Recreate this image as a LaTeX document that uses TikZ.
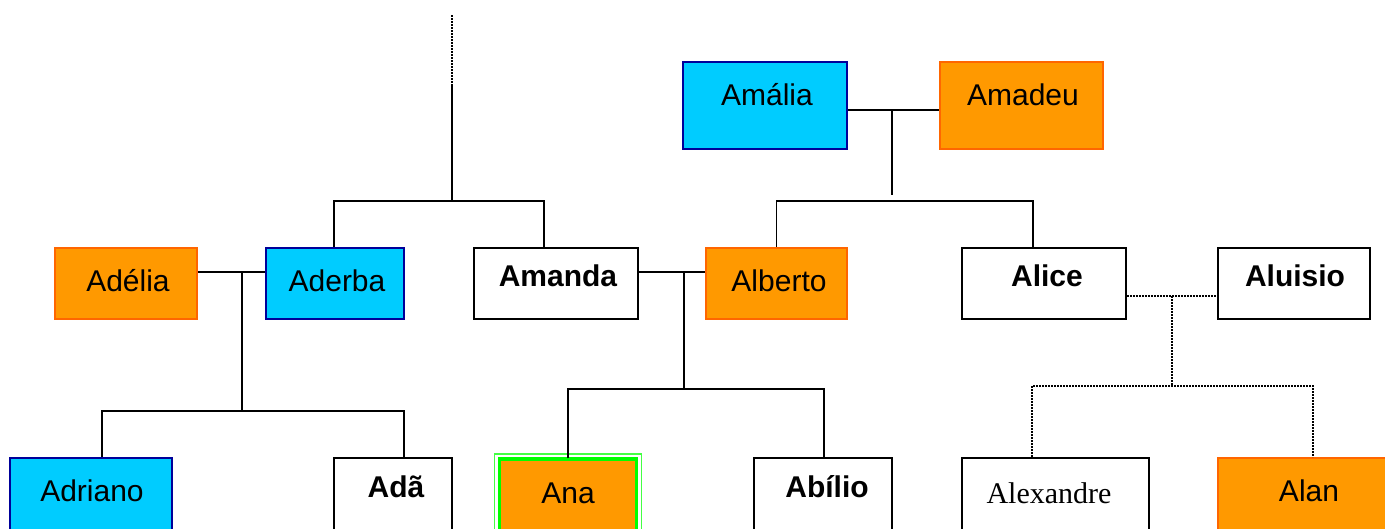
\documentclass[tikz,border=0pt]{standalone}
\usepackage{fontspec}
\setmainfont{Liberation Sans}
\newfontfamily\timesfont{Liberation Serif}
\definecolor{orfill}{HTML}{FF9900}
\definecolor{ordraw}{HTML}{FF6600}
\definecolor{blfill}{HTML}{00CCFF}
\definecolor{bldraw}{HTML}{000099}
\definecolor{grA}{HTML}{00FF00}
\definecolor{grB}{HTML}{44FF44}
\begin{document}
\begin{tikzpicture}[x=1pt,y=-1pt,
  person/.style={rectangle, inner sep=0pt, line width=1.8pt},
  orbox/.style={person, fill=orfill, draw=ordraw},
  blbox/.style={person, fill=blfill, draw=bldraw},
  whbox/.style={person, fill=white, draw=black},
  toprow/.style={minimum height=87pt},
  midrow/.style={minimum height=71pt},
  botrow/.style={minimum height=82pt},
  txt/.style={anchor=base, inner sep=0pt, font=\fontsize{30}{36}\selectfont},
  btxt/.style={txt, font=\fontsize{30}{36}\selectfont\bfseries},
  link/.style={line width=1.9pt, black},
  dotlink/.style={line width=1.7pt, black, dash pattern=on 2pt off 1pt}]
\clip (0,0) rectangle (1385,528);
\fill[white] (0,0) rectangle (1385,528);

% top row
\node[blbox, toprow, minimum width=164pt] (amalia) at (765,105.5) {};
\node[orbox, toprow, minimum width=163pt] (amadeu) at (1021.5,105.5) {};
\node[txt] (amalia-t) at (767,105) {Amália};
\node[txt] (amadeu-t) at (1023,105) {Amadeu};

% middle row
\node[orbox, midrow, minimum width=142pt] (adelia) at (126,283.5) {};
\node[blbox, midrow, minimum width=138pt] (aderba) at (335,283.5) {};
\node[whbox, midrow, minimum width=164pt] (amanda) at (556,283.5) {};
\node[orbox, midrow, minimum width=141pt] (alberto) at (776.5,283.5) {};
\node[whbox, midrow, minimum width=164pt] (alice) at (1044,283.5) {};
\node[whbox, midrow, minimum width=152pt] (aluisio) at (1294,283.5) {};
\node[txt] (adelia-t) at (128,291) {Adélia};
\node[txt] (aderba-t) at (337,291) {Aderba};
\node[btxt] (amanda-t) at (558,286) {Amanda};
\node[txt] (alberto-t) at (779,291) {Alberto};
\node[btxt] (alice-t) at (1047,286) {Alice};
\node[btxt] (aluisio-t) at (1295,286) {Aluisio};

% bottom row
\node[blbox, botrow, minimum width=162pt] (adriano) at (91,499) {};
\node[whbox, botrow, minimum width=118pt] (ada) at (393,499) {};
\node[person, draw=grB, line width=1.6pt, minimum width=147pt, minimum height=90pt] (anaout) at (568,499) {};
\node[person, fill=orfill, draw=grA, line width=3.2pt, minimum width=137pt, minimum height=80pt] (ana) at (568,499) {};
\node[whbox, botrow, minimum width=138pt] (abilio) at (823,499) {};
\node[whbox, botrow, minimum width=187pt] (alexandre) at (1055.5,499) {};
\node[orbox, botrow, minimum width=182pt] (alan) at (1309,499) {};
\node[txt] (adriano-t) at (92,501) {Adriano};
\node[btxt] (ada-t) at (396,497) {Adã};
\node[txt] (ana-t) at (568,503) {Ana};
\node[btxt] (abilio-t) at (827,497) {Abílio};
\node[txt, font=\fontsize{30}{36}\selectfont\timesfont] (alexandre-t) at (1049,503) {Alexandre};
\node[txt] (alan-t) at (1309,501) {Alan};

% couples
\coordinate (m1) at (892,110);
\coordinate (m2) at (242,272);
\coordinate (m3) at (684,272);
\coordinate (m4) at (1172,296);
\coordinate (top) at (452,15);
\coordinate (topmid) at (452,85);

% top free line
\draw[dotlink] (top) -- (topmid);
\draw[link] (topmid) -- (452,202);

% Amalia + Amadeu
\draw[link] (amalia.east |- m1) -- (amadeu.west |- m1);
\draw[link] (m1) -- (892,195);
\draw[link] (alberto.north) -- ++(0,-46) -| ([xshift=-11pt]alice.north);

% Aderba / Amanda siblings
\draw[link] ([xshift=-1pt]aderba.north) -- ++(0,-46) -| ([xshift=-12pt]amanda.north);

% Adelia + Aderba
\draw[link] (adelia.east |- m2) -- (aderba.west |- m2);
\draw[link] (m2) -- (242,412);
\draw[link] ([xshift=11pt]adriano.north) -- ++(0,-46) -| ([xshift=11pt]ada.north);

% Amanda + Alberto
\draw[link] (amanda.east |- m3) -- (alberto.west |- m3);
\draw[link] (m3) -- (684,388);
\draw[link] (ana.north) ++(0,-1pt) -- ++(0,-69) -| ([xshift=1pt]abilio.north);

% Alice + Aluisio
\draw[dotlink] (alice.east |- m4) -- (aluisio.west |- m4);
\draw[dotlink] (m4) -- (1172,387);
\draw[dotlink] ([xshift=-23.5pt]alexandre.north) -- ++(0,-71) -| ([xshift=4pt]alan.north);
\end{tikzpicture}
\end{document}
